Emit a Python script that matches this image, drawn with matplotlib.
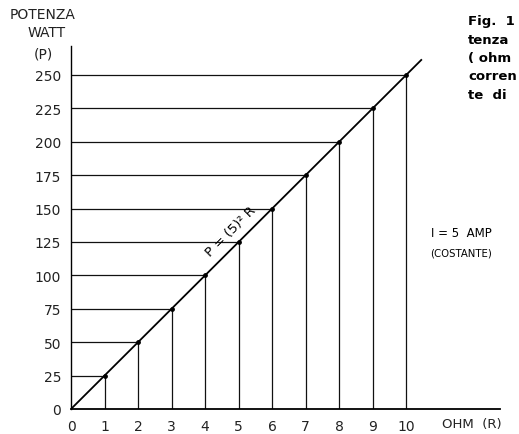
import matplotlib
matplotlib.use("Agg")
import matplotlib.pyplot as plt

# P = I^2 * R with I = 5 A
ohm = [1, 2, 3, 4, 5, 6, 7, 8, 9, 10]
watt = [25, 50, 75, 100, 125, 150, 175, 200, 225, 250]
x_ticks = [0, 1, 2, 3, 4, 5, 6, 7, 8, 9, 10]
y_ticks = [0, 25, 50, 75, 100, 125, 150, 175, 200, 225, 250]
line_end = 10.45

plt.rcParams['font.family'] = ['DejaVu Sans']

fig = plt.figure(figsize=(5.19, 4.35), dpi=100)
ax = fig.add_axes([71 / 519, 1 - 410 / 435, 429 / 519, 363 / 435])

# diagonal P = 25 R
ax.plot([0, line_end], [0, 25 * line_end], color='black', lw=1.3)

for r, p in zip(ohm, watt):
    ax.plot([0, r], [p, p], color='#111111', lw=0.9)
    ax.plot([r, r], [0, p], color='#111111', lw=0.9)
ax.scatter(ohm, watt, s=6, color='black', zorder=3)

ax.set_xlim(0, 12.8)
ax.set_ylim(0, 271.7)
ax.spines['top'].set_visible(False)
ax.spines['right'].set_visible(False)
ax.spines['left'].set_linewidth(1.0)
ax.spines['bottom'].set_linewidth(1.3)
ax.set_xticks(x_ticks)
ax.set_yticks(y_ticks)
ax.tick_params(length=0, labelsize=10, pad=7, colors='#222222')

ax.text(4.76, 133, 'P = (5)² R', rotation=45, fontsize=9.5,
        ha='center', va='center', rotation_mode='anchor')
ax.text(11.65, 132, 'I = 5  AMP', fontsize=8.5, ha='center', va='center')
ax.text(11.65, 117, '(COSTANTE)', fontsize=7.3, ha='center', va='center')

fig.text(472 / 519, 1 - 425 / 435, 'OHM  (R)', fontsize=9.5,
         ha='center', va='center', color='#222222')
fig.text(43 / 519, 1 - 15 / 435, 'POTENZA', fontsize=10, ha='center',
         va='center', color='#222222')
fig.text(47 / 519, 1 - 33 / 435, 'WATT', fontsize=10, ha='center',
         va='center', color='#222222')
fig.text(43 / 519, 1 - 55 / 435, '(P)', fontsize=10, ha='center',
         va='center', color='#222222')

fig.text(468 / 519, 1 - 15 / 435, 'Fig.  1\ntenza\n( ohm\ncorren\nte  di',
         fontsize=9.5, fontweight='bold', ha='left', va='top',
         linespacing=1.55)

fig.savefig('out.png', dpi=100)
